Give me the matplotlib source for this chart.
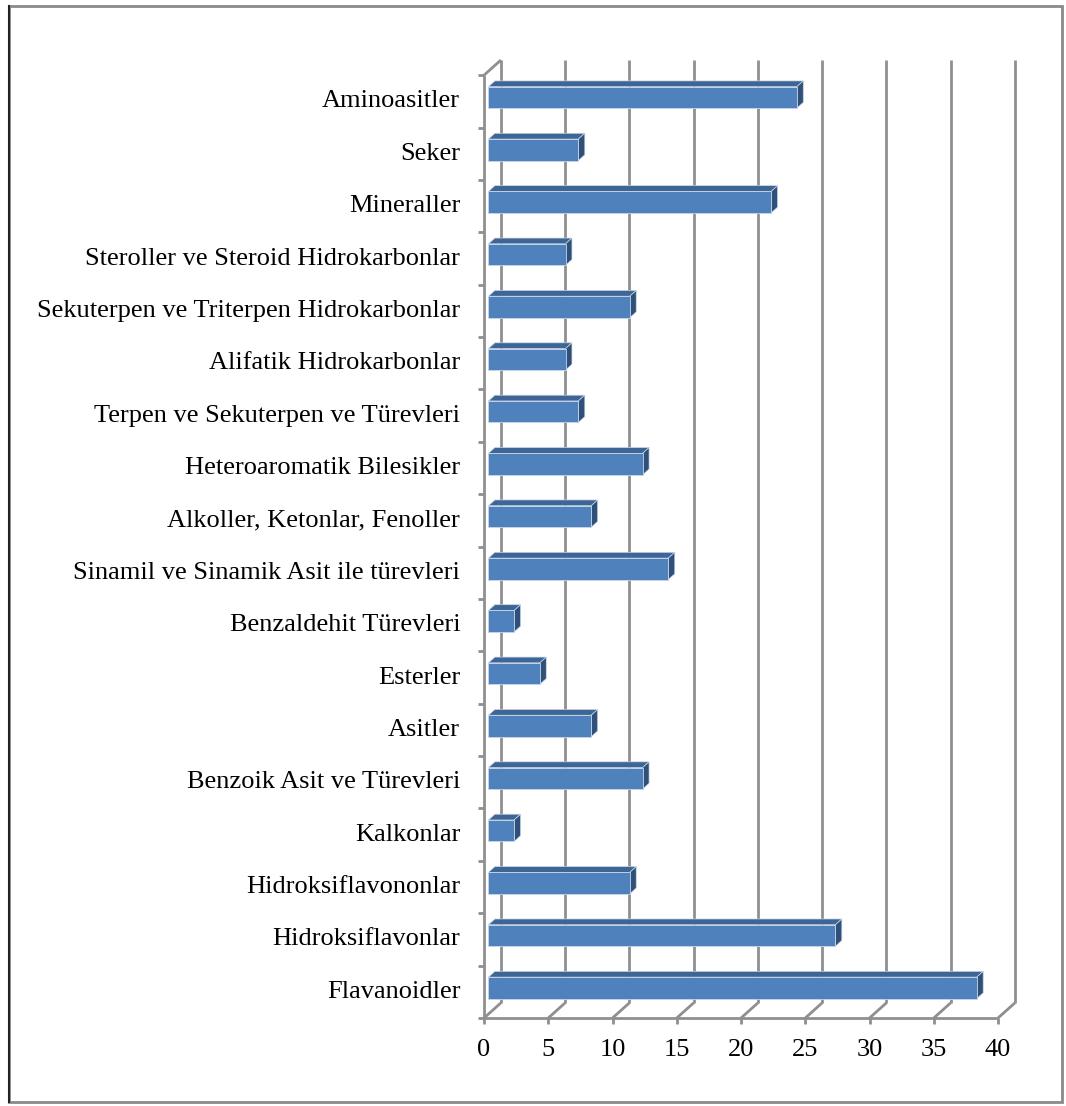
import matplotlib.pyplot as plt
from matplotlib.patches import Polygon, Rectangle

plt.rcParams["font.family"] = ["Liberation Serif", "DejaVu Serif"]

categories = [
    "Aminoasitler",
    "Seker",
    "Mineraller",
    "Steroller ve Steroid Hidrokarbonlar",
    "Sekuterpen ve Triterpen Hidrokarbonlar",
    "Alifatik Hidrokarbonlar",
    "Terpen ve Sekuterpen ve Türevleri",
    "Heteroaromatik Bilesikler",
    "Alkoller, Ketonlar, Fenoller",
    "Sinamil ve Sinamik Asit ile türevleri",
    "Benzaldehit Türevleri",
    "Esterler",
    "Asitler",
    "Benzoik Asit ve Türevleri",
    "Kalkonlar",
    "Hidroksiflavononlar",
    "Hidroksiflavonlar",
    "Flavanoidler",
]
values = [24, 7, 22, 6, 11, 6, 7, 12, 8, 14, 2, 4, 8, 12, 2, 11, 27, 38]
xticks = [0, 5, 10, 15, 20, 25, 30, 35, 40]

# bottom-up order for the axes
cats = categories[::-1]
vals = values[::-1]
n = len(cats)

# fake 3d: depth offset of the back wall, in data units
DX, DY = 1.32, 0.29
XMAX = 40
front_d, bar_d = 0.26, 0.38   # bar front depth and bar depth (fraction)
bar_h = 0.41

grid_c = "#8f8f8f"
face_c = "#4f81bd"
top_c = "#3d6596"
side_c = "#2e5079"

fig = plt.figure(figsize=(10.66, 11.06), dpi=100)
ax = fig.add_axes([484 / 1066, 88 / 1106, (1015 - 484) / 1066, (1018 - 60) / 1106])
ax.set_xlim(0, XMAX + DX)
ax.set_ylim(-0.5, n - 0.5 + DY)
ax.axis("off")

y0, y1 = -0.5, n - 0.5
line_kw = dict(color=grid_c, lw=2, solid_capstyle="butt", clip_on=False, zorder=1)

# back wall gridlines and floor diagonals
for v in xticks:
    ax.plot([v + DX, v + DX], [y0 + DY, y1 + DY], **line_kw)
    ax.plot([v, v], [y0, y0 + 0.0], **line_kw)
    ax.plot([v, v + DX], [y0, y0 + DY], **line_kw)
    ax.plot([v, v], [y0, y0 - 0.12], **line_kw)
    ax.text(v, y0 - 0.62, str(v), ha="center", va="center", fontsize=19)
# floor front edge
ax.plot([0, XMAX], [y0, y0], **line_kw)
# left wall
ax.plot([0, 0], [y0, y1], **line_kw)
ax.plot([0, DX], [y1, y1 + DY], **line_kw)
for k in range(n + 1):
    ax.plot([-0.45, 0], [y0 + k, y0 + k], **line_kw)

# bars
for i, (c, v) in enumerate(zip(cats, vals)):
    ox, oy = front_d * DX, front_d * DY
    bx, by = bar_d * DX, bar_d * DY
    yb = i - bar_h / 2 + oy
    yt = i + bar_h / 2 + oy
    top = Polygon([(ox, yt), (ox + v, yt), (ox + v + bx, yt + by), (ox + bx, yt + by)],
                  closed=True, fc=top_c, ec="#c9d6e8", lw=0.5, zorder=3)
    side = Polygon([(ox + v, yb), (ox + v + bx, yb + by), (ox + v + bx, yt + by), (ox + v, yt)],
                   closed=True, fc=side_c, ec="#c9d6e8", lw=0.5, zorder=3)
    front = Rectangle((ox, yb), v, bar_h, fc=face_c, ec="#c9d6e8", lw=0.6, zorder=4)
    ax.add_patch(top)
    ax.add_patch(side)
    ax.add_patch(front)
    ax.text(-1.85, i, c, ha="right", va="center", fontsize=19)

# outer chart frame
fig.add_artist(Rectangle((9 / 1066, 4 / 1106), (1062 - 9) / 1066, (1100 - 4) / 1106,
                         transform=fig.transFigure, fill=False, ec="#8a8a8a", lw=2))
fig.add_artist(plt.Line2D([9 / 1066, 9 / 1066], [4 / 1106, 1100 / 1106],
                          transform=fig.transFigure, color="#222222", lw=1.5))

fig.savefig("out.png", dpi=100)
